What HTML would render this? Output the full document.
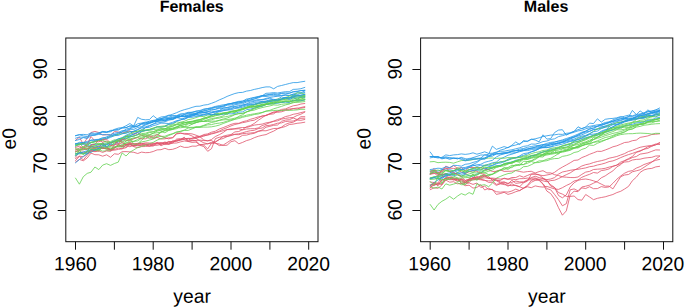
<!DOCTYPE html>
<html><head><meta charset="utf-8"><title>e0</title>
<style>
html,body{margin:0;padding:0;background:#fff;}
body{width:685px;height:308px;overflow:hidden;font-family:"Liberation Sans",sans-serif;}
svg{display:block;}
text{font-family:"Liberation Sans",sans-serif;fill:#000;text-rendering:geometricPrecision;}
.ax{font-size:19.3px;}
.ti{font-size:16px;font-weight:bold;}
.ln path{fill:none;stroke-width:0.8;stroke-linejoin:round;stroke-linecap:round;}
.fr{fill:none;stroke:#111;stroke-width:1;}
</style></head><body>
<svg width="685" height="308" viewBox="0 0 685 308">
<rect width="685" height="308" fill="#fff"/>
<g>
<rect class="fr" x="65.8" y="38.0" width="252.2" height="203.7"/>
<line class="fr" x1="75.5" y1="241.7" x2="75.5" y2="249.7"/>
<text class="ax" x="75.40" y="270.4" transform="rotate(0.05 75.40 270.4)" text-anchor="middle">1960</text>
<line class="fr" x1="114.4" y1="241.7" x2="114.4" y2="249.7"/>
<line class="fr" x1="153.2" y1="241.7" x2="153.2" y2="249.7"/>
<text class="ax" x="153.14" y="270.4" transform="rotate(0.05 153.14 270.4)" text-anchor="middle">1980</text>
<line class="fr" x1="192.1" y1="241.7" x2="192.1" y2="249.7"/>
<line class="fr" x1="231.0" y1="241.7" x2="231.0" y2="249.7"/>
<text class="ax" x="230.88" y="270.4" transform="rotate(0.05 230.88 270.4)" text-anchor="middle">2000</text>
<line class="fr" x1="269.9" y1="241.7" x2="269.9" y2="249.7"/>
<line class="fr" x1="308.7" y1="241.7" x2="308.7" y2="249.7"/>
<text class="ax" x="308.62" y="270.4" transform="rotate(0.05 308.62 270.4)" text-anchor="middle">2020</text>
<line class="fr" x1="57.7" y1="210.5" x2="65.8" y2="210.5"/>
<text class="ax" transform="translate(46.8,209.9) rotate(-89.95)" text-anchor="middle">60</text>
<line class="fr" x1="57.7" y1="163.5" x2="65.8" y2="163.5"/>
<text class="ax" transform="translate(46.8,162.9) rotate(-89.95)" text-anchor="middle">70</text>
<line class="fr" x1="57.7" y1="116.5" x2="65.8" y2="116.5"/>
<text class="ax" transform="translate(46.8,115.9) rotate(-89.95)" text-anchor="middle">80</text>
<line class="fr" x1="57.7" y1="69.5" x2="65.8" y2="69.5"/>
<text class="ax" transform="translate(46.8,68.9) rotate(-89.95)" text-anchor="middle">90</text>
<text class="ax" transform="translate(15.7,138.7) rotate(-89.95)" text-anchor="middle">e0</text>
<text class="ax" x="192.10" y="302.8" transform="rotate(0.05 192.10 302.8)" text-anchor="middle">year</text>
<text class="ti" x="191.70" y="11.7" transform="rotate(0.05 191.70 11.7)" text-anchor="middle">Females</text>
</g>
<g>
<rect class="fr" x="420.6" y="38.0" width="252.2" height="203.7"/>
<line class="fr" x1="430.2" y1="241.7" x2="430.2" y2="249.7"/>
<text class="ax" x="429.65" y="270.4" transform="rotate(0.05 429.65 270.4)" text-anchor="middle">1960</text>
<line class="fr" x1="469.1" y1="241.7" x2="469.1" y2="249.7"/>
<line class="fr" x1="508.0" y1="241.7" x2="508.0" y2="249.7"/>
<text class="ax" x="507.39" y="270.4" transform="rotate(0.05 507.39 270.4)" text-anchor="middle">1980</text>
<line class="fr" x1="546.9" y1="241.7" x2="546.9" y2="249.7"/>
<line class="fr" x1="585.7" y1="241.7" x2="585.7" y2="249.7"/>
<text class="ax" x="585.13" y="270.4" transform="rotate(0.05 585.13 270.4)" text-anchor="middle">2000</text>
<line class="fr" x1="624.6" y1="241.7" x2="624.6" y2="249.7"/>
<line class="fr" x1="663.5" y1="241.7" x2="663.5" y2="249.7"/>
<text class="ax" x="662.87" y="270.4" transform="rotate(0.05 662.87 270.4)" text-anchor="middle">2020</text>
<line class="fr" x1="412.4" y1="210.5" x2="420.6" y2="210.5"/>
<text class="ax" transform="translate(401.6,209.9) rotate(-89.95)" text-anchor="middle">60</text>
<line class="fr" x1="412.4" y1="163.5" x2="420.6" y2="163.5"/>
<text class="ax" transform="translate(401.6,162.9) rotate(-89.95)" text-anchor="middle">70</text>
<line class="fr" x1="412.4" y1="116.5" x2="420.6" y2="116.5"/>
<text class="ax" transform="translate(401.6,115.9) rotate(-89.95)" text-anchor="middle">80</text>
<line class="fr" x1="412.4" y1="69.5" x2="420.6" y2="69.5"/>
<text class="ax" transform="translate(401.6,68.9) rotate(-89.95)" text-anchor="middle">90</text>
<text class="ax" transform="translate(370.4,138.7) rotate(-89.95)" text-anchor="middle">e0</text>
<text class="ax" x="546.85" y="302.8" transform="rotate(0.05 546.85 302.8)" text-anchor="middle">year</text>
<text class="ti" x="546.05" y="11.7" transform="rotate(0.05 546.05 11.7)" text-anchor="middle">Males</text>
</g>
<g class="ln">
<path d="M75.5,144.0L79.4,144.2L83.3,144.4L87.2,146.2L91.0,144.6L94.9,144.4L98.8,144.2L102.7,144.7L106.6,144.1L110.5,144.4L114.4,144.3L118.3,142.1L122.1,140.2L126.0,137.0L129.9,136.0L133.8,134.0L137.7,132.3L141.6,131.0L145.5,127.6L149.4,127.3L153.2,125.7L157.1,124.7L161.0,123.1L164.9,123.3L168.8,123.5L172.7,122.3L176.6,120.7L180.4,119.9L184.3,118.9L188.2,117.3L192.1,115.9L196.0,114.3L199.9,115.1L203.8,114.1L207.7,113.5L211.5,112.7L215.4,111.7L219.3,110.5L223.2,108.1L227.1,107.4L231.0,106.5L234.9,104.7L238.8,104.1L242.6,103.7L246.5,102.1L250.4,101.1L254.3,100.6L258.2,99.5L262.1,99.9L266.0,98.4L269.9,97.5L273.7,96.8L277.6,96.2L281.5,95.8L285.4,95.2L289.3,95.6L293.2,94.3L297.1,94.8L300.9,93.3L304.8,92.4" stroke="#2297E6"/>
<path d="M75.5,154.1L79.4,152.5L83.3,154.1L87.2,152.1L91.0,149.5L94.9,150.2L98.8,148.9L102.7,148.3L106.6,148.9L110.5,149.1L114.4,147.5L118.3,145.4L122.1,146.4L126.0,143.3L129.9,142.3L133.8,141.4L137.7,140.9L141.6,138.3L145.5,136.5L149.4,136.7L153.2,135.4L157.1,134.7L161.0,132.4L164.9,130.3L168.8,129.7L172.7,129.0L176.6,127.6L180.4,125.3L184.3,124.7L188.2,122.7L192.1,121.7L196.0,120.8L199.9,119.4L203.8,118.7L207.7,116.9L211.5,116.5L215.4,115.3L219.3,114.6L223.2,112.8L227.1,112.7L231.0,111.2L234.9,110.5L238.8,109.7L242.6,108.7L246.5,107.5L250.4,106.2L254.3,105.3L258.2,103.9L262.1,102.8L266.0,102.2L269.9,101.5L273.7,100.9L277.6,101.2L281.5,100.0L285.4,99.6L289.3,99.9L293.2,97.6L297.1,97.9L300.9,97.6L304.8,96.8" stroke="#61D04F"/>
<path d="M75.5,140.3L79.4,137.2L83.3,144.2L87.2,138.1L91.0,132.5L94.9,131.4L98.8,132.5L102.7,135.0L106.6,134.6L110.5,135.3L114.4,131.5L118.3,132.0L122.1,133.1L126.0,132.0L129.9,130.7L133.8,134.5L137.7,132.7L141.6,135.5L145.5,136.2L149.4,135.5L153.2,137.0L157.1,134.6L161.0,136.1L164.9,137.8L168.8,138.9L172.7,137.4L176.6,133.4L180.4,132.9L184.3,134.2L188.2,134.4L192.1,136.0L196.0,138.4L199.9,140.8L203.8,142.8L207.7,143.8L211.5,143.1L215.4,143.3L219.3,144.0L223.2,145.5L227.1,145.2L231.0,141.7L234.9,140.7L238.8,143.8L242.6,142.4L246.5,140.6L250.4,139.5L254.3,137.7L258.2,136.3L262.1,135.3L266.0,134.6L269.9,132.7L273.7,131.1L277.6,128.8L281.5,127.1L285.4,124.4L289.3,122.9L293.2,122.2L297.1,120.1L300.9,120.3L304.8,119.5" stroke="#DF536B"/>
<path d="M75.5,149.9L79.4,149.2L83.3,148.9L87.2,149.3L91.0,146.0L94.9,146.2L98.8,144.4L102.7,143.3L106.6,146.3L110.5,145.4L114.4,143.4L118.3,140.9L122.1,141.0L126.0,141.0L129.9,139.5L133.8,138.6L137.7,136.9L141.6,134.5L145.5,134.3L149.4,132.6L153.2,131.9L157.1,130.1L161.0,128.6L164.9,128.8L168.8,127.0L172.7,126.1L176.6,124.3L180.4,122.2L184.3,121.3L188.2,119.6L192.1,118.9L196.0,117.6L199.9,116.3L203.8,116.6L207.7,114.8L211.5,114.9L215.4,114.1L219.3,113.2L223.2,113.2L227.1,112.3L231.0,111.6L234.9,111.0L238.8,111.0L242.6,109.6L246.5,108.1L250.4,107.6L254.3,106.6L258.2,105.5L262.1,105.0L266.0,103.6L269.9,102.6L273.7,102.1L277.6,102.6L281.5,102.2L285.4,101.9L289.3,102.1L293.2,100.2L297.1,100.0L300.9,99.1L304.8,97.6" stroke="#61D04F"/>
<path d="M75.5,158.5L79.4,156.1L83.3,156.8L87.2,153.8L91.0,150.5L94.9,151.2L98.8,150.4L102.7,147.1L106.6,149.0L110.5,149.6L114.4,147.1L118.3,146.1L122.1,146.6L126.0,147.1L129.9,144.0L133.8,146.7L137.7,147.7L141.6,146.6L145.5,146.5L149.4,146.0L153.2,146.1L157.1,143.2L161.0,142.8L164.9,144.6L168.8,144.2L172.7,143.1L176.6,143.0L180.4,141.9L184.3,141.0L188.2,141.4L192.1,140.8L196.0,140.5L199.9,140.1L203.8,140.6L207.7,140.7L211.5,140.5L215.4,143.1L219.3,145.6L223.2,145.0L227.1,142.6L231.0,140.0L234.9,138.6L238.8,137.6L242.6,135.3L246.5,135.1L250.4,134.0L254.3,133.3L258.2,131.5L262.1,130.7L266.0,130.8L269.9,129.6L273.7,128.5L277.6,128.4L281.5,127.6L285.4,126.5L289.3,124.5L293.2,124.1L297.1,123.3L300.9,122.9L304.8,122.2" stroke="#DF536B"/>
<path d="M75.5,143.5L79.4,143.3L83.3,142.4L87.2,141.5L91.0,140.2L94.9,139.6L98.8,139.3L102.7,138.6L106.6,136.8L110.5,135.5L114.4,134.5L118.3,134.4L122.1,131.9L126.0,131.7L129.9,129.3L133.8,129.4L137.7,127.5L141.6,126.6L145.5,124.2L149.4,123.0L153.2,121.6L157.1,121.3L161.0,119.6L164.9,119.0L168.8,118.3L172.7,117.4L176.6,116.3L180.4,115.2L184.3,114.5L188.2,113.5L192.1,113.3L196.0,113.1L199.9,112.2L203.8,112.6L207.7,111.5L211.5,111.9L215.4,111.2L219.3,110.6L223.2,109.7L227.1,108.9L231.0,108.1L234.9,107.8L238.8,107.3L242.6,106.0L246.5,104.9L250.4,104.5L254.3,103.9L258.2,102.9L262.1,101.3L266.0,101.5L269.9,100.4L273.7,100.4L277.6,100.0L281.5,99.2L285.4,98.5L289.3,98.1L293.2,97.2L297.1,97.0L300.9,96.4L304.8,96.2" stroke="#2297E6"/>
<path d="M75.5,147.5L79.4,146.1L83.3,148.2L87.2,146.2L91.0,146.7L94.9,147.4L98.8,145.8L102.7,148.6L106.6,147.8L110.5,149.2L114.4,149.5L118.3,148.1L122.1,148.8L126.0,145.1L129.9,146.8L133.8,145.2L137.7,145.8L141.6,145.2L145.5,145.0L149.4,145.9L153.2,145.3L157.1,145.3L161.0,144.4L164.9,143.0L168.8,143.9L172.7,141.0L176.6,141.2L180.4,139.6L184.3,137.8L188.2,140.2L192.1,138.2L196.0,137.4L199.9,136.6L203.8,134.5L207.7,133.9L211.5,132.2L215.4,131.2L219.3,129.0L223.2,127.6L227.1,126.0L231.0,124.4L234.9,123.3L238.8,123.3L242.6,122.7L246.5,121.9L250.4,120.8L254.3,120.2L258.2,118.1L262.1,115.9L266.0,115.5L269.9,113.7L273.7,112.0L277.6,112.3L281.5,111.8L285.4,110.5L289.3,109.9L293.2,108.7L297.1,109.1L300.9,107.5L304.8,106.6" stroke="#DF536B"/>
<path d="M75.5,144.2L79.4,144.4L83.3,143.3L87.2,143.1L91.0,142.1L94.9,141.4L98.8,140.0L102.7,139.1L106.6,138.3L110.5,136.3L114.4,135.8L118.3,134.2L122.1,133.8L126.0,132.7L129.9,131.8L133.8,131.6L137.7,131.3L141.6,130.7L145.5,130.5L149.4,130.4L153.2,129.6L157.1,129.0L161.0,128.9L164.9,128.9L168.8,128.6L172.7,128.1L176.6,127.7L180.4,127.8L184.3,127.2L188.2,127.5L192.1,127.3L196.0,127.4L199.9,127.4L203.8,127.1L207.7,127.1L211.5,126.8L215.4,126.1L219.3,125.1L223.2,123.5L227.1,122.1L231.0,120.7L234.9,119.4L238.8,118.5L242.6,117.3L246.5,116.4L250.4,115.6L254.3,114.5L258.2,114.0L262.1,112.7L266.0,111.2L269.9,110.3L273.7,108.8L277.6,107.6L281.5,106.4L285.4,105.0L289.3,103.8L293.2,102.8L297.1,101.6L300.9,100.9L304.8,100.0" stroke="#61D04F"/>
<path d="M75.5,157.2L79.4,152.0L83.3,152.3L87.2,152.3L91.0,145.7L94.9,147.9L98.8,148.2L102.7,142.6L106.6,147.1L110.5,150.2L114.4,144.8L118.3,144.0L122.1,142.9L126.0,144.9L129.9,143.3L133.8,144.1L137.7,144.3L141.6,143.2L145.5,144.1L149.4,144.2L153.2,145.0L157.1,142.6L161.0,145.8L164.9,143.9L168.8,141.3L172.7,142.9L176.6,140.0L180.4,139.5L184.3,137.3L188.2,141.0L192.1,140.4L196.0,140.8L199.9,144.7L203.8,145.2L207.7,148.9L211.5,143.2L215.4,142.2L219.3,139.5L223.2,136.2L227.1,135.2L231.0,134.6L234.9,131.9L238.8,131.5L242.6,129.6L246.5,126.6L250.4,125.7L254.3,123.4L258.2,120.4L262.1,117.7L266.0,115.1L269.9,114.3L273.7,113.8L277.6,111.1L281.5,109.4L285.4,108.9L289.3,107.3L293.2,105.8L297.1,105.2L300.9,104.0L304.8,103.5" stroke="#DF536B"/>
<path d="M75.5,153.6L79.4,153.9L83.3,153.8L87.2,153.9L91.0,149.4L94.9,149.4L98.8,151.3L102.7,145.3L106.6,146.7L110.5,146.5L114.4,142.9L118.3,141.0L122.1,139.6L126.0,138.0L129.9,137.0L133.8,136.1L137.7,134.5L141.6,131.9L145.5,130.7L149.4,129.4L153.2,128.0L157.1,126.8L161.0,126.3L164.9,125.8L168.8,124.3L172.7,124.2L176.6,121.9L180.4,122.6L184.3,122.4L188.2,122.3L192.1,121.9L196.0,120.2L199.9,120.1L203.8,117.8L207.7,117.2L211.5,115.4L215.4,114.2L219.3,113.8L223.2,113.3L227.1,112.9L231.0,111.8L234.9,111.7L238.8,110.4L242.6,108.7L246.5,106.9L250.4,105.6L254.3,104.6L258.2,103.3L262.1,102.4L266.0,101.8L269.9,101.3L273.7,100.7L277.6,100.1L281.5,99.0L285.4,97.4L289.3,98.1L293.2,96.3L297.1,95.5L300.9,95.8L304.8,95.4" stroke="#61D04F"/>
<path d="M75.5,146.4L79.4,144.0L83.3,143.6L87.2,144.3L91.0,142.6L94.9,141.5L98.8,139.9L102.7,139.3L106.6,138.9L110.5,137.4L114.4,135.6L118.3,135.5L122.1,133.7L126.0,133.3L129.9,131.6L133.8,131.5L137.7,129.8L141.6,127.9L145.5,126.8L149.4,125.5L153.2,124.1L157.1,123.0L161.0,122.3L164.9,121.9L168.8,120.2L172.7,119.4L176.6,117.8L180.4,116.7L184.3,114.6L188.2,112.9L192.1,112.3L196.0,111.3L199.9,111.2L203.8,109.0L207.7,108.5L211.5,107.6L215.4,106.4L219.3,105.6L223.2,104.8L227.1,104.3L231.0,103.4L234.9,102.4L238.8,101.3L242.6,101.3L246.5,99.0L250.4,98.8L254.3,97.7L258.2,96.9L262.1,95.7L266.0,95.0L269.9,94.3L273.7,93.6L277.6,94.1L281.5,93.2L285.4,92.9L289.3,93.2L293.2,91.7L297.1,91.2L300.9,90.7L304.8,90.3" stroke="#2297E6"/>
<path d="M75.5,162.1L79.4,159.4L83.3,160.8L87.2,158.0L91.0,153.1L94.9,154.7L98.8,154.8L102.7,156.2L106.6,154.8L110.5,157.3L114.4,153.8L118.3,154.3L122.1,151.7L126.0,151.6L129.9,151.9L133.8,152.3L137.7,153.5L141.6,152.1L145.5,152.7L149.4,152.5L153.2,151.5L157.1,149.9L161.0,149.7L164.9,148.3L168.8,149.7L172.7,149.3L176.6,148.0L180.4,146.1L184.3,147.4L188.2,147.3L192.1,146.1L196.0,146.2L199.9,144.7L203.8,144.3L207.7,143.8L211.5,142.3L215.4,141.7L219.3,139.5L223.2,138.5L227.1,136.5L231.0,135.6L234.9,134.2L238.8,133.8L242.6,132.7L246.5,131.6L250.4,130.7L254.3,130.3L258.2,128.6L262.1,128.0L266.0,125.7L269.9,125.3L273.7,124.4L277.6,123.2L281.5,122.9L285.4,121.5L289.3,121.2L293.2,121.0L297.1,119.6L300.9,118.3L304.8,118.2" stroke="#DF536B"/>
<path d="M75.5,135.6L79.4,134.6L83.3,134.4L87.2,134.8L91.0,132.9L94.9,133.3L98.8,132.9L102.7,131.4L106.6,132.5L110.5,130.4L114.4,130.1L118.3,130.1L122.1,127.8L126.0,127.7L129.9,125.9L133.8,125.6L137.7,117.4L141.6,119.3L145.5,119.8L149.4,119.6L153.2,115.7L157.1,118.8L161.0,117.0L164.9,116.5L168.8,115.2L172.7,115.8L176.6,115.9L180.4,114.8L184.3,116.5L188.2,116.5L192.1,114.5L196.0,114.3L199.9,112.0L203.8,112.3L207.7,112.7L211.5,115.4L215.4,113.2L219.3,111.4L223.2,110.7L227.1,109.8L231.0,109.0L234.9,106.6L238.8,107.1L242.6,105.1L246.5,103.8L250.4,102.2L254.3,101.3L258.2,100.6L262.1,99.4L266.0,99.3L269.9,98.1L273.7,99.7L277.6,99.2L281.5,96.9L285.4,98.3L289.3,99.4L293.2,97.7L297.1,99.5L300.9,97.0L304.8,97.2" stroke="#2297E6"/>
<path d="M75.5,155.7L79.4,152.6L83.3,154.1L87.2,151.2L91.0,151.9L94.9,150.4L98.8,150.0L102.7,147.9L106.6,149.1L110.5,148.9L114.4,147.8L118.3,146.6L122.1,147.2L126.0,145.2L129.9,144.0L133.8,145.2L137.7,143.9L141.6,141.9L145.5,141.2L149.4,140.1L153.2,139.0L157.1,136.9L161.0,136.4L164.9,136.3L168.8,134.7L172.7,133.7L176.6,131.8L180.4,131.6L184.3,130.0L188.2,128.0L192.1,127.9L196.0,126.7L199.9,127.1L203.8,125.8L207.7,124.9L211.5,124.6L215.4,123.6L219.3,123.1L223.2,122.4L227.1,121.1L231.0,119.9L234.9,119.0L238.8,116.3L242.6,114.8L246.5,111.9L250.4,110.4L254.3,108.8L258.2,107.1L262.1,106.4L266.0,104.5L269.9,104.2L273.7,104.2L277.6,102.0L281.5,102.4L285.4,101.5L289.3,101.1L293.2,98.9L297.1,98.2L300.9,97.5L304.8,96.5" stroke="#61D04F"/>
<path d="M75.5,153.9L79.4,153.0L83.3,153.0L87.2,153.1L91.0,149.6L94.9,150.1L98.8,148.7L102.7,145.2L106.6,146.9L110.5,144.0L114.4,141.5L118.3,140.3L122.1,138.9L126.0,138.8L129.9,137.0L133.8,135.8L137.7,134.6L141.6,131.4L145.5,130.4L149.4,129.8L153.2,128.8L157.1,126.8L161.0,127.2L164.9,126.4L168.8,124.3L172.7,123.4L176.6,121.3L180.4,120.0L184.3,118.1L188.2,116.9L192.1,115.5L196.0,114.3L199.9,113.5L203.8,112.6L207.7,111.7L211.5,110.3L215.4,109.3L219.3,107.5L223.2,106.9L227.1,105.2L231.0,104.9L234.9,103.7L238.8,103.2L242.6,102.4L246.5,100.6L250.4,100.1L254.3,99.1L258.2,97.9L262.1,96.4L266.0,96.5L269.9,95.9L273.7,95.7L277.6,95.9L281.5,95.5L285.4,95.0L289.3,95.4L293.2,94.1L297.1,92.9L300.9,92.7L304.8,91.0" stroke="#2297E6"/>
<path d="M75.5,162.8L79.4,159.6L83.3,156.4L87.2,153.8L91.0,152.3L94.9,149.8L98.8,148.2L102.7,147.2L106.6,144.7L110.5,142.7L114.4,141.2L118.3,139.1L122.1,137.6L126.0,135.3L129.9,133.5L133.8,131.0L137.7,129.5L141.6,127.2L145.5,125.1L149.4,123.5L153.2,122.1L157.1,119.9L161.0,118.7L164.9,117.3L168.8,115.5L172.7,114.2L176.6,112.7L180.4,111.0L184.3,109.7L188.2,108.7L192.1,107.4L196.0,106.3L199.9,106.2L203.8,105.1L207.7,104.6L211.5,103.3L215.4,101.8L219.3,99.9L223.2,98.3L227.1,96.4L231.0,94.9L234.9,93.5L238.8,92.6L242.6,92.4L246.5,91.1L250.4,90.5L254.3,89.4L258.2,88.6L262.1,87.6L266.0,86.9L269.9,86.9L273.7,88.8L277.6,86.4L281.5,85.5L285.4,84.5L289.3,83.5L293.2,82.6L297.1,82.6L300.9,81.9L304.8,81.3" stroke="#2297E6"/>
<path d="M75.5,151.8L79.4,150.8L83.3,148.0L87.2,149.5L91.0,144.9L94.9,144.3L98.8,140.2L102.7,142.1L106.6,140.9L110.5,145.6L114.4,145.2L118.3,140.5L122.1,141.8L126.0,144.5L129.9,144.2L133.8,145.6L137.7,144.8L141.6,145.3L145.5,145.0L149.4,146.3L153.2,144.3L157.1,142.7L161.0,144.3L164.9,142.7L168.8,144.2L172.7,142.7L176.6,139.1L180.4,138.6L184.3,139.5L188.2,141.5L192.1,142.4L196.0,142.1L199.9,145.2L203.8,146.6L207.7,151.3L211.5,148.7L215.4,138.6L219.3,137.3L223.2,136.7L227.1,136.6L231.0,135.0L234.9,134.5L238.8,134.7L242.6,133.6L246.5,133.3L250.4,133.0L254.3,132.6L258.2,131.1L262.1,130.1L266.0,127.2L269.9,126.3L273.7,125.3L277.6,125.0L281.5,121.3L285.4,120.1L289.3,119.7L293.2,118.0L297.1,119.5L300.9,116.7L304.8,116.7" stroke="#DF536B"/>
<path d="M75.5,150.0L79.4,147.9L83.3,146.6L87.2,144.5L91.0,136.5L94.9,140.9L98.8,141.9L102.7,139.7L106.6,139.1L110.5,143.1L114.4,141.1L118.3,143.9L122.1,139.0L126.0,140.1L129.9,140.4L133.8,138.7L137.7,137.6L141.6,138.8L145.5,138.8L149.4,137.0L153.2,138.4L157.1,137.4L161.0,139.0L164.9,138.8L168.8,137.8L172.7,138.0L176.6,133.9L180.4,133.4L184.3,133.4L188.2,133.5L192.1,133.9L196.0,135.2L199.9,136.7L203.8,140.0L207.7,140.9L211.5,139.5L215.4,136.5L219.3,134.7L223.2,132.5L227.1,129.6L231.0,128.8L234.9,129.0L238.8,128.7L242.6,129.8L246.5,129.0L250.4,128.7L254.3,128.7L258.2,128.0L262.1,125.6L266.0,124.3L269.9,122.6L273.7,121.4L277.6,120.8L281.5,119.1L285.4,118.4L289.3,117.8L293.2,117.5L297.1,115.5L300.9,114.2L304.8,112.1" stroke="#DF536B"/>
<path d="M75.5,155.0L79.4,150.5L83.3,153.9L87.2,151.1L91.0,149.1L94.9,149.0L98.8,149.5L102.7,151.2L106.6,150.7L110.5,150.6L114.4,148.1L118.3,144.2L122.1,146.3L126.0,140.9L129.9,138.9L133.8,143.9L137.7,143.8L141.6,140.2L145.5,136.8L149.4,138.5L153.2,137.5L157.1,136.6L161.0,131.4L164.9,132.8L168.8,130.4L172.7,129.3L176.6,126.7L180.4,125.2L184.3,127.1L188.2,123.3L192.1,124.0L196.0,122.6L199.9,121.2L203.8,119.4L207.7,118.1L211.5,115.2L215.4,114.2L219.3,114.5L223.2,113.4L227.1,114.8L231.0,111.4L234.9,112.6L238.8,109.7L242.6,108.3L246.5,107.7L250.4,106.2L254.3,106.5L258.2,106.6L262.1,104.0L266.0,104.0L269.9,100.7L273.7,100.4L277.6,99.1L281.5,98.7L285.4,97.5L289.3,96.2L293.2,95.5L297.1,92.9L300.9,92.9L304.8,94.1" stroke="#61D04F"/>
<path d="M75.5,138.2L79.4,137.0L83.3,137.3L87.2,137.2L91.0,134.9L94.9,135.2L98.8,134.4L102.7,134.6L106.6,134.8L110.5,134.5L114.4,133.2L118.3,132.5L122.1,130.7L126.0,130.5L129.9,128.7L133.8,127.5L137.7,126.2L141.6,123.6L145.5,123.0L149.4,121.1L153.2,120.6L157.1,119.6L161.0,119.1L164.9,119.1L168.8,118.1L172.7,118.2L176.6,116.9L180.4,116.5L184.3,116.8L188.2,115.9L192.1,116.1L196.0,115.1L199.9,115.3L203.8,115.1L207.7,114.8L211.5,114.6L215.4,114.3L219.3,114.8L223.2,114.3L227.1,113.6L231.0,113.9L234.9,113.4L238.8,112.1L242.6,111.9L246.5,109.7L250.4,109.1L254.3,108.0L258.2,106.7L262.1,106.1L266.0,104.5L269.9,103.9L273.7,103.3L277.6,103.3L281.5,102.4L285.4,102.0L289.3,102.5L293.2,100.3L297.1,100.6L300.9,100.7L304.8,99.7" stroke="#2297E6"/>
<path d="M75.5,145.5L79.4,143.4L83.3,147.2L87.2,145.2L91.0,142.5L94.9,143.2L98.8,143.6L102.7,143.3L106.6,142.8L110.5,142.8L114.4,142.2L118.3,141.1L122.1,142.6L126.0,138.6L129.9,139.0L133.8,137.8L137.7,137.3L141.6,135.7L145.5,134.8L149.4,135.1L153.2,133.3L157.1,132.7L161.0,132.2L164.9,130.9L168.8,130.2L172.7,129.5L176.6,128.7L180.4,126.6L184.3,126.5L188.2,126.2L192.1,124.2L196.0,122.7L199.9,121.4L203.8,121.3L207.7,119.6L211.5,118.6L215.4,117.9L219.3,117.1L223.2,115.9L227.1,113.2L231.0,112.1L234.9,112.0L238.8,110.0L242.6,109.7L246.5,108.0L250.4,107.0L254.3,106.8L258.2,105.7L262.1,104.8L266.0,104.6L269.9,103.6L273.7,103.3L277.6,101.7L281.5,101.8L285.4,100.7L289.3,101.2L293.2,101.2L297.1,99.4L300.9,99.2L304.8,98.9" stroke="#61D04F"/>
<path d="M75.5,135.8L79.4,134.8L83.3,135.9L87.2,136.5L91.0,133.8L94.9,134.4L98.8,133.6L102.7,132.2L106.6,132.3L110.5,131.8L114.4,129.4L118.3,128.1L122.1,127.6L126.0,125.8L129.9,123.5L133.8,126.2L137.7,123.8L141.6,123.0L145.5,122.1L149.4,121.9L153.2,120.3L157.1,120.5L161.0,119.6L164.9,121.0L168.8,119.5L172.7,119.6L176.6,117.6L180.4,118.4L184.3,119.4L188.2,117.4L192.1,117.3L196.0,116.5L199.9,115.9L203.8,114.7L207.7,113.7L211.5,112.9L215.4,112.0L219.3,111.6L223.2,110.6L227.1,110.1L231.0,109.8L234.9,108.5L238.8,108.1L242.6,107.2L246.5,105.8L250.4,104.8L254.3,104.6L258.2,103.4L262.1,102.8L266.0,102.3L269.9,101.4L273.7,100.9L277.6,100.7L281.5,99.0L285.4,97.6L289.3,98.0L293.2,95.3L297.1,95.8L300.9,95.3L304.8,94.5" stroke="#2297E6"/>
<path d="M75.5,160.5L79.4,156.4L83.3,159.9L87.2,155.4L91.0,150.7L94.9,151.7L98.8,151.0L102.7,152.4L106.6,150.8L110.5,151.4L114.4,148.5L118.3,144.7L122.1,146.1L126.0,144.5L129.9,142.7L133.8,144.0L137.7,143.3L141.6,143.6L145.5,142.8L149.4,143.0L153.2,143.3L157.1,143.0L161.0,142.9L164.9,143.0L168.8,141.9L172.7,141.4L176.6,141.1L180.4,140.2L184.3,139.3L188.2,138.4L192.1,139.1L196.0,138.3L199.9,137.1L203.8,136.2L207.7,134.7L211.5,133.4L215.4,132.6L219.3,131.0L223.2,129.1L227.1,127.7L231.0,125.9L234.9,124.5L238.8,123.6L242.6,121.7L246.5,120.8L250.4,119.3L254.3,118.2L258.2,116.9L262.1,116.2L266.0,115.6L269.9,113.6L273.7,112.3L277.6,111.3L281.5,110.6L285.4,109.7L289.3,109.0L293.2,108.6L297.1,108.0L300.9,108.1L304.8,107.5" stroke="#DF536B"/>
<path d="M75.5,178.1L79.4,184.2L83.3,176.7L87.2,173.4L91.0,172.2L94.9,167.0L98.8,169.6L102.7,165.1L106.6,163.7L110.5,165.4L114.4,163.5L118.3,162.1L122.1,152.9L126.0,156.0L129.9,152.2L133.8,149.9L137.7,147.5L141.6,146.3L145.5,145.1L149.4,143.7L153.2,142.4L157.1,140.1L161.0,138.6L164.9,137.5L168.8,135.5L172.7,133.9L176.6,132.5L180.4,131.2L184.3,130.5L188.2,130.4L192.1,128.9L196.0,127.3L199.9,126.6L203.8,125.3L207.7,123.7L211.5,122.5L215.4,121.7L219.3,120.2L223.2,119.0L227.1,118.1L231.0,116.5L234.9,114.7L238.8,113.7L242.6,113.6L246.5,112.0L250.4,110.3L254.3,108.1L258.2,107.4L262.1,105.7L266.0,104.7L269.9,103.3L273.7,102.1L277.6,100.5L281.5,100.1L285.4,99.2L289.3,97.7L293.2,96.9L297.1,95.9L300.9,96.2L304.8,95.6" stroke="#61D04F"/>
<path d="M75.5,151.4L79.4,149.8L83.3,149.9L87.2,148.5L91.0,148.1L94.9,148.6L98.8,146.8L102.7,148.1L106.6,147.8L110.5,150.2L114.4,150.2L118.3,149.4L122.1,148.8L126.0,147.7L129.9,144.9L133.8,146.3L137.7,145.2L141.6,144.6L145.5,144.0L149.4,144.4L153.2,143.7L157.1,144.0L161.0,143.3L164.9,142.0L168.8,142.9L172.7,141.2L176.6,140.6L180.4,139.9L184.3,138.6L188.2,138.4L192.1,138.3L196.0,136.8L199.9,136.3L203.8,135.4L207.7,135.2L211.5,134.0L215.4,133.0L219.3,131.8L223.2,130.7L227.1,129.6L231.0,129.6L234.9,128.6L238.8,127.9L242.6,127.5L246.5,127.5L250.4,126.3L254.3,125.1L258.2,124.6L262.1,124.1L266.0,122.9L269.9,122.2L273.7,121.1L277.6,119.5L281.5,118.4L285.4,116.6L289.3,115.7L293.2,114.3L297.1,113.6L300.9,112.6L304.8,111.7" stroke="#DF536B"/>
<path d="M75.5,155.7L79.4,153.2L83.3,151.8L87.2,150.8L91.0,146.9L94.9,147.1L98.8,146.3L102.7,144.1L106.6,144.1L110.5,142.5L114.4,140.8L118.3,138.7L122.1,138.2L126.0,136.2L129.9,135.6L133.8,133.8L137.7,132.4L141.6,129.5L145.5,127.6L149.4,126.1L153.2,124.1L157.1,121.5L161.0,121.0L164.9,120.8L168.8,118.9L172.7,118.9L176.6,117.0L180.4,116.5L184.3,115.8L188.2,114.8L192.1,114.2L196.0,113.4L199.9,112.0L203.8,110.6L207.7,109.9L211.5,108.4L215.4,107.5L219.3,106.8L223.2,106.1L227.1,104.5L231.0,103.7L234.9,102.7L238.8,102.7L242.6,102.3L246.5,101.3L250.4,100.0L254.3,98.8L258.2,97.2L262.1,95.8L266.0,93.3L269.9,93.1L273.7,92.6L277.6,93.0L281.5,92.3L285.4,91.7L289.3,91.7L293.2,89.4L297.1,89.2L300.9,88.7L304.8,87.4" stroke="#2297E6"/>
<path d="M75.5,140.5L79.4,139.5L83.3,137.6L87.2,138.6L91.0,135.7L94.9,135.1L98.8,133.1L102.7,131.7L106.6,131.7L110.5,131.1L114.4,130.0L118.3,129.3L122.1,128.1L126.0,127.6L129.9,126.0L133.8,126.7L137.7,126.2L141.6,124.4L145.5,124.0L149.4,123.0L153.2,121.8L157.1,121.3L161.0,120.3L164.9,120.2L168.8,118.5L172.7,118.1L176.6,117.4L180.4,116.5L184.3,116.4L188.2,115.3L192.1,114.7L196.0,113.4L199.9,112.0L203.8,111.2L207.7,110.1L211.5,109.4L215.4,109.2L219.3,108.5L223.2,108.2L227.1,107.7L231.0,106.9L234.9,106.3L238.8,105.6L242.6,105.1L246.5,104.3L250.4,103.5L254.3,102.5L258.2,101.9L262.1,101.6L266.0,101.0L269.9,99.8L273.7,99.3L277.6,100.0L281.5,99.2L285.4,97.6L289.3,98.0L293.2,96.6L297.1,95.9L300.9,95.2L304.8,94.2" stroke="#2297E6"/>
<path d="M75.5,144.4L79.4,142.3L83.3,142.6L87.2,142.8L91.0,140.3L94.9,140.3L98.8,139.4L102.7,137.6L106.6,137.9L110.5,136.4L114.4,134.6L118.3,133.4L122.1,131.9L126.0,129.1L129.9,128.0L133.8,126.3L137.7,125.9L141.6,123.6L145.5,122.9L149.4,122.6L153.2,121.6L157.1,119.5L161.0,118.6L164.9,117.7L168.8,117.2L172.7,115.9L176.6,115.7L180.4,113.9L184.3,113.5L188.2,112.3L192.1,112.3L196.0,111.1L199.9,110.4L203.8,109.6L207.7,108.6L211.5,108.2L215.4,107.0L219.3,106.7L223.2,105.9L227.1,104.1L231.0,103.7L234.9,102.8L238.8,101.9L242.6,101.0L246.5,100.0L250.4,98.2L254.3,97.4L258.2,96.5L262.1,95.6L266.0,95.4L269.9,94.7L273.7,94.4L277.6,95.0L281.5,93.6L285.4,94.0L289.3,93.2L293.2,91.9L297.1,91.7L300.9,90.5L304.8,90.3" stroke="#2297E6"/>
<path d="M75.5,145.9L79.4,144.8L83.3,143.2L87.2,145.3L91.0,142.5L94.9,141.7L98.8,140.5L102.7,140.4L106.6,141.9L110.5,141.6L114.4,139.8L118.3,140.5L122.1,138.0L126.0,136.5L129.9,136.4L133.8,136.1L137.7,134.8L141.6,133.6L145.5,133.2L149.4,131.9L153.2,131.7L157.1,130.3L161.0,129.9L164.9,129.9L168.8,129.0L172.7,128.2L176.6,126.7L180.4,125.5L184.3,124.7L188.2,123.9L192.1,123.0L196.0,122.5L199.9,121.8L203.8,121.2L207.7,120.5L211.5,119.8L215.4,118.5L219.3,118.1L223.2,117.1L227.1,116.5L231.0,115.5L234.9,114.4L238.8,113.5L242.6,113.3L246.5,111.9L250.4,110.8L254.3,110.1L258.2,108.6L262.1,107.6L266.0,106.7L269.9,105.9L273.7,104.9L277.6,105.2L281.5,104.3L285.4,103.8L289.3,103.9L293.2,102.0L297.1,102.4L300.9,102.0L304.8,101.6" stroke="#61D04F"/>
<path d="M75.5,148.6L79.4,149.3L83.3,147.4L87.2,147.2L91.0,146.2L94.9,145.5L98.8,144.7L102.7,144.7L106.6,144.2L110.5,142.6L114.4,141.4L118.3,139.6L122.1,138.5L126.0,136.2L129.9,134.3L133.8,132.3L137.7,131.2L141.6,130.0L145.5,129.8L149.4,129.5L153.2,128.3L157.1,127.0L161.0,127.1L164.9,126.6L168.8,126.1L172.7,125.0L176.6,124.1L180.4,124.1L184.3,122.9L188.2,121.8L192.1,121.8L196.0,121.4L199.9,120.9L203.8,121.5L207.7,121.5L211.5,121.2L215.4,121.1L219.3,120.5L223.2,119.9L227.1,119.6L231.0,119.0L234.9,118.1L238.8,117.4L242.6,116.4L246.5,115.2L250.4,114.5L254.3,113.8L258.2,113.1L262.1,112.4L266.0,111.1L269.9,110.9L273.7,110.5L277.6,110.3L281.5,110.6L285.4,110.0L289.3,110.4L293.2,110.2L297.1,109.9L300.9,109.3L304.8,109.3" stroke="#61D04F"/>
<path d="M75.5,152.2L79.4,150.3L83.3,149.6L87.2,149.0L91.0,148.0L94.9,147.7L98.8,147.5L102.7,146.7L106.6,147.7L110.5,147.1L114.4,146.8L118.3,146.3L122.1,144.5L126.0,143.0L129.9,141.0L133.8,141.3L137.7,139.5L141.6,137.2L145.5,136.0L149.4,134.6L153.2,133.2L157.1,131.2L161.0,130.2L164.9,128.7L168.8,127.5L172.7,126.3L176.6,124.8L180.4,124.1L184.3,123.1L188.2,121.9L192.1,121.2L196.0,120.3L199.9,119.6L203.8,118.5L207.7,117.7L211.5,117.0L215.4,115.8L219.3,114.9L223.2,113.7L227.1,112.7L231.0,111.9L234.9,110.6L238.8,110.3L242.6,109.2L246.5,108.1L250.4,107.0L254.3,106.7L258.2,105.2L262.1,104.9L266.0,104.2L269.9,103.2L273.7,102.8L277.6,102.8L281.5,101.9L285.4,101.2L289.3,101.8L293.2,101.0L297.1,100.8L300.9,100.2L304.8,99.6" stroke="#61D04F"/>
<path d="M430.2,173.9L434.1,171.8L438.0,174.0L441.9,174.5L445.8,174.5L449.7,174.4L453.6,175.7L457.5,174.8L461.3,176.2L465.2,174.3L469.1,175.8L473.0,176.3L476.9,174.0L480.8,172.7L484.7,170.0L488.6,166.9L492.4,165.6L496.3,163.9L500.2,161.6L504.1,161.8L508.0,159.2L511.9,157.9L515.8,157.8L519.7,155.9L523.5,153.6L527.4,153.0L531.3,151.7L535.2,150.6L539.1,148.8L543.0,145.1L546.9,145.3L550.7,143.6L554.6,143.9L558.5,142.4L562.4,141.7L566.3,140.2L570.2,137.8L574.1,136.8L578.0,135.1L581.8,132.9L585.7,131.2L589.6,128.7L593.5,128.7L597.4,126.0L601.3,125.1L605.2,123.7L609.1,122.2L612.9,121.3L616.8,119.6L620.7,118.6L624.6,118.0L628.5,116.4L632.4,116.4L636.3,115.4L640.1,115.0L644.0,114.5L647.9,114.0L651.8,112.8L655.7,112.3L659.6,110.4" stroke="#2297E6"/>
<path d="M430.2,185.6L434.1,183.6L438.0,183.9L441.9,183.5L445.8,179.5L449.7,179.4L453.6,178.9L457.5,181.6L461.3,180.9L465.2,182.4L469.1,180.3L473.0,178.7L476.9,179.0L480.8,177.0L484.7,172.8L488.6,174.5L492.4,174.1L496.3,171.2L500.2,170.3L504.1,169.6L508.0,168.1L511.9,167.6L515.8,165.1L519.7,164.9L523.5,164.6L527.4,161.7L531.3,160.9L535.2,158.5L539.1,156.6L543.0,154.4L546.9,152.6L550.7,151.5L554.6,150.6L558.5,150.1L562.4,148.6L566.3,148.1L570.2,147.2L574.1,145.1L578.0,143.0L581.8,141.2L585.7,139.8L589.6,138.1L593.5,136.8L597.4,135.0L601.3,134.1L605.2,132.7L609.1,131.3L612.9,130.0L616.8,129.6L620.7,127.3L624.6,127.3L628.5,127.4L632.4,125.7L636.3,123.9L640.1,124.1L644.0,123.7L647.9,122.1L651.8,121.3L655.7,119.7L659.6,118.5" stroke="#61D04F"/>
<path d="M430.2,174.0L434.1,172.9L438.0,176.2L441.9,169.7L445.8,168.7L449.7,168.2L453.6,168.4L457.5,169.0L461.3,172.1L465.2,173.6L469.1,171.8L473.0,170.8L476.9,171.3L480.8,173.2L484.7,174.7L488.6,176.5L492.4,180.5L496.3,179.7L500.2,182.0L504.1,182.2L508.0,183.9L511.9,180.2L515.8,183.3L519.7,182.9L523.5,182.3L527.4,180.4L531.3,177.6L535.2,176.2L539.1,177.6L543.0,178.5L546.9,181.0L550.7,184.7L554.6,187.5L558.5,192.6L562.4,194.1L566.3,196.4L570.2,196.4L574.1,196.0L578.0,199.6L581.8,200.2L585.7,194.5L589.6,197.0L593.5,199.7L597.4,198.3L601.3,197.5L605.2,196.8L609.1,195.6L612.9,194.5L616.8,192.6L620.7,191.3L624.6,189.0L628.5,186.4L632.4,180.7L636.3,177.2L640.1,172.4L644.0,169.9L647.9,168.8L651.8,168.4L655.7,166.9L659.6,166.3" stroke="#DF536B"/>
<path d="M430.2,178.4L434.1,177.2L438.0,175.6L441.9,175.6L445.8,173.9L449.7,174.6L453.6,173.4L457.5,173.5L461.3,175.8L465.2,175.1L469.1,174.0L473.0,172.7L476.9,173.0L480.8,171.1L484.7,170.3L488.6,169.2L492.4,168.4L496.3,166.5L500.2,165.5L504.1,164.2L508.0,163.7L511.9,162.1L515.8,161.1L519.7,160.7L523.5,158.6L527.4,158.3L531.3,155.7L535.2,155.2L539.1,153.6L543.0,151.7L546.9,151.1L550.7,150.2L554.6,149.2L558.5,148.4L562.4,147.6L566.3,147.1L570.2,146.1L574.1,145.2L578.0,144.6L581.8,142.9L585.7,141.8L589.6,140.1L593.5,139.4L597.4,137.4L601.3,135.3L605.2,134.4L609.1,132.8L612.9,131.6L616.8,129.7L620.7,129.9L624.6,129.2L628.5,127.7L632.4,126.9L636.3,125.7L640.1,124.2L644.0,123.6L647.9,121.8L651.8,120.6L655.7,119.2L659.6,118.3" stroke="#61D04F"/>
<path d="M430.2,174.2L434.1,173.5L438.0,172.8L441.9,170.7L445.8,166.1L449.7,167.9L453.6,165.6L457.5,168.3L461.3,167.5L465.2,170.9L469.1,167.4L473.0,167.5L476.9,167.6L480.8,167.5L484.7,169.0L488.6,169.8L492.4,171.5L496.3,171.3L500.2,169.8L504.1,171.4L508.0,171.3L511.9,171.2L515.8,170.6L519.7,171.5L523.5,172.2L527.4,171.6L531.3,171.3L535.2,173.0L539.1,171.6L543.0,170.7L546.9,172.9L550.7,172.9L554.6,174.7L558.5,175.5L562.4,176.9L566.3,177.2L570.2,177.5L574.1,177.6L578.0,177.0L581.8,174.4L585.7,172.1L589.6,171.4L593.5,169.5L597.4,169.2L601.3,168.9L605.2,168.3L609.1,167.1L612.9,166.2L616.8,165.2L620.7,163.5L624.6,162.0L628.5,161.7L632.4,160.0L636.3,159.4L640.1,159.2L644.0,158.2L647.9,157.7L651.8,157.3L655.7,156.0L659.6,155.9" stroke="#DF536B"/>
<path d="M430.2,171.3L434.1,170.6L438.0,171.2L441.9,169.4L445.8,170.1L449.7,169.7L453.6,170.7L457.5,169.3L461.3,167.8L465.2,167.4L469.1,166.2L473.0,164.9L476.9,166.4L480.8,165.2L484.7,165.4L488.6,164.2L492.4,162.8L496.3,162.1L500.2,158.9L504.1,157.2L508.0,155.2L511.9,154.2L515.8,152.8L519.7,151.7L523.5,150.7L527.4,149.2L531.3,148.6L535.2,146.9L539.1,145.6L543.0,144.7L546.9,143.3L550.7,142.4L554.6,141.9L558.5,141.1L562.4,140.7L566.3,139.4L570.2,138.6L574.1,137.0L578.0,135.2L581.8,133.3L585.7,132.0L589.6,131.2L593.5,129.5L597.4,128.8L601.3,126.7L605.2,126.6L609.1,125.1L612.9,124.0L616.8,123.0L620.7,122.0L624.6,120.8L628.5,119.3L632.4,118.7L636.3,118.5L640.1,117.8L644.0,117.4L647.9,117.0L651.8,116.2L655.7,116.1L659.6,115.6" stroke="#2297E6"/>
<path d="M430.2,173.7L434.1,171.0L438.0,174.7L441.9,174.4L445.8,173.5L449.7,175.4L453.6,178.4L457.5,179.9L461.3,180.9L465.2,184.3L469.1,182.6L473.0,178.2L476.9,178.7L480.8,178.3L484.7,177.8L488.6,178.2L492.4,178.9L496.3,180.3L500.2,180.5L504.1,178.1L508.0,179.2L511.9,177.5L515.8,177.5L519.7,175.7L523.5,177.2L527.4,175.5L531.3,173.9L535.2,174.2L539.1,174.9L543.0,175.7L546.9,175.0L550.7,174.2L554.6,172.3L558.5,169.4L562.4,167.1L566.3,165.0L570.2,162.8L574.1,160.4L578.0,160.0L581.8,157.6L585.7,156.1L589.6,154.3L593.5,152.8L597.4,151.3L601.3,151.4L605.2,150.0L609.1,148.5L612.9,146.8L616.8,145.8L620.7,144.2L624.6,142.5L628.5,142.1L632.4,140.7L636.3,140.1L640.1,137.4L644.0,136.7L647.9,135.9L651.8,134.5L655.7,134.2L659.6,133.8" stroke="#DF536B"/>
<path d="M430.2,161.8L434.1,161.5L438.0,162.7L441.9,162.3L445.8,162.2L449.7,162.4L453.6,163.2L457.5,161.8L461.3,160.6L465.2,160.4L469.1,160.3L473.0,159.6L476.9,158.6L480.8,158.9L484.7,158.5L488.6,158.1L492.4,158.0L496.3,158.4L500.2,158.1L504.1,158.3L508.0,157.6L511.9,157.7L515.8,157.4L519.7,157.4L523.5,157.0L527.4,156.3L531.3,156.0L535.2,155.1L539.1,155.3L543.0,154.9L546.9,154.2L550.7,153.6L554.6,152.8L558.5,152.0L562.4,151.3L566.3,150.7L570.2,149.8L574.1,147.8L578.0,146.2L581.8,144.4L585.7,142.9L589.6,141.6L593.5,139.7L597.4,138.3L601.3,137.2L605.2,135.7L609.1,134.6L612.9,133.4L616.8,132.5L620.7,131.6L624.6,130.2L628.5,128.7L632.4,127.0L636.3,124.8L640.1,123.9L644.0,122.2L647.9,121.3L651.8,120.3L655.7,119.3L659.6,118.8" stroke="#61D04F"/>
<path d="M430.2,189.7L434.1,187.8L438.0,188.3L441.9,185.0L445.8,180.1L449.7,182.2L453.6,181.7L457.5,183.8L461.3,183.3L465.2,185.7L469.1,185.2L473.0,188.1L476.9,187.4L480.8,184.7L484.7,190.0L488.6,188.3L492.4,189.9L496.3,191.7L500.2,192.2L504.1,191.8L508.0,192.1L511.9,191.0L515.8,189.1L519.7,190.7L523.5,187.9L527.4,186.0L531.3,182.3L535.2,180.4L539.1,179.9L543.0,183.7L546.9,188.7L550.7,189.8L554.6,194.5L558.5,199.7L562.4,205.8L566.3,203.7L570.2,189.8L574.1,188.9L578.0,190.8L581.8,187.0L585.7,186.2L589.6,185.1L593.5,183.2L597.4,181.3L601.3,177.8L605.2,175.9L609.1,173.2L612.9,170.9L616.8,166.9L620.7,164.7L624.6,160.7L628.5,158.6L632.4,156.5L636.3,152.3L640.1,151.3L644.0,149.2L647.9,146.7L651.8,146.1L655.7,144.7L659.6,142.5" stroke="#DF536B"/>
<path d="M430.2,186.7L434.1,188.2L438.0,187.0L441.9,189.0L445.8,183.8L449.7,185.2L453.6,184.1L457.5,182.8L461.3,184.7L465.2,184.6L469.1,180.9L473.0,179.9L476.9,179.6L480.8,178.2L484.7,176.1L488.6,175.8L492.4,174.2L496.3,172.7L500.2,170.0L504.1,167.8L508.0,167.5L511.9,165.2L515.8,165.9L519.7,164.1L523.5,164.5L527.4,163.3L531.3,161.5L535.2,162.7L539.1,160.9L543.0,160.8L546.9,159.2L550.7,158.3L554.6,156.1L558.5,153.6L562.4,151.2L566.3,150.6L570.2,148.9L574.1,148.1L578.0,147.3L581.8,145.8L585.7,144.0L589.6,144.0L593.5,142.3L597.4,140.8L601.3,139.2L605.2,137.5L609.1,136.7L612.9,135.4L616.8,133.9L620.7,133.5L624.6,132.2L628.5,129.6L632.4,128.7L636.3,126.2L640.1,124.4L644.0,123.9L647.9,121.4L651.8,121.5L655.7,121.4L659.6,120.3" stroke="#61D04F"/>
<path d="M430.2,177.9L434.1,177.4L438.0,178.4L441.9,177.2L445.8,174.8L449.7,174.9L453.6,174.5L457.5,172.5L461.3,174.3L465.2,173.5L469.1,171.1L473.0,170.5L476.9,170.3L480.8,169.9L484.7,168.4L488.6,169.1L492.4,167.9L496.3,165.7L500.2,165.4L504.1,164.1L508.0,162.6L511.9,162.0L515.8,160.2L519.7,159.7L523.5,158.4L527.4,157.7L531.3,155.9L535.2,155.1L539.1,153.0L543.0,152.1L546.9,150.9L550.7,149.2L554.6,148.9L558.5,147.7L562.4,146.1L566.3,145.2L570.2,144.3L574.1,142.2L578.0,141.5L581.8,139.8L585.7,138.7L589.6,137.1L593.5,135.6L597.4,135.2L601.3,133.2L605.2,132.1L609.1,130.9L612.9,129.8L616.8,128.2L620.7,127.3L624.6,125.8L628.5,124.8L632.4,124.4L636.3,122.8L640.1,122.6L644.0,121.7L647.9,120.3L651.8,119.7L655.7,118.1L659.6,117.4" stroke="#2297E6"/>
<path d="M430.2,182.0L434.1,182.5L438.0,183.1L441.9,176.8L445.8,175.8L449.7,177.8L453.6,177.8L457.5,179.4L461.3,179.2L465.2,181.9L469.1,180.4L473.0,179.7L476.9,179.3L480.8,179.8L484.7,180.5L488.6,180.8L492.4,180.8L496.3,184.3L500.2,183.6L504.1,184.6L508.0,185.2L511.9,185.7L515.8,185.3L519.7,186.8L523.5,188.3L527.4,186.8L531.3,187.7L535.2,185.9L539.1,186.7L543.0,187.1L546.9,186.4L550.7,187.7L554.6,188.9L558.5,189.4L562.4,187.7L566.3,185.5L570.2,183.7L574.1,181.0L578.0,180.0L581.8,177.3L585.7,175.7L589.6,174.3L593.5,172.5L597.4,173.1L601.3,170.6L605.2,170.0L609.1,168.9L612.9,166.4L616.8,165.0L620.7,162.1L624.6,160.6L628.5,159.4L632.4,157.5L636.3,156.5L640.1,154.1L644.0,153.5L647.9,152.8L651.8,151.3L655.7,149.9L659.6,150.0" stroke="#DF536B"/>
<path d="M430.2,152.0L434.1,157.4L438.0,156.4L441.9,158.2L445.8,157.9L449.7,159.4L453.6,158.1L457.5,158.8L461.3,157.4L465.2,158.6L469.1,159.4L473.0,157.6L476.9,156.4L480.8,155.0L484.7,155.0L488.6,154.3L492.4,146.1L496.3,149.4L500.2,148.0L504.1,146.6L508.0,147.8L511.9,145.2L515.8,141.9L519.7,144.7L523.5,140.5L527.4,141.6L531.3,139.1L535.2,140.0L539.1,141.9L543.0,134.8L546.9,139.1L550.7,138.6L554.6,132.5L558.5,130.1L562.4,129.7L566.3,135.2L570.2,132.9L574.1,131.5L578.0,126.8L581.8,128.7L585.7,127.0L589.6,123.1L593.5,123.6L597.4,118.8L601.3,122.1L605.2,119.3L609.1,118.7L612.9,118.4L616.8,117.8L620.7,116.5L624.6,117.8L628.5,117.0L632.4,110.4L636.3,114.6L640.1,110.9L644.0,113.7L647.9,109.9L651.8,112.7L655.7,113.1L659.6,111.2" stroke="#2297E6"/>
<path d="M430.2,173.0L434.1,170.1L438.0,173.9L441.9,174.0L445.8,170.6L449.7,171.5L453.6,171.2L457.5,167.6L461.3,169.5L465.2,170.8L469.1,169.5L473.0,169.4L476.9,168.2L480.8,169.3L484.7,166.8L488.6,168.2L492.4,166.7L496.3,165.9L500.2,166.4L504.1,163.4L508.0,163.0L511.9,163.1L515.8,161.4L519.7,162.3L523.5,159.3L527.4,159.4L531.3,158.2L535.2,157.5L539.1,156.6L543.0,154.3L546.9,153.6L550.7,153.1L554.6,152.6L558.5,151.8L562.4,151.4L566.3,150.0L570.2,148.6L574.1,147.9L578.0,148.0L581.8,145.9L585.7,144.6L589.6,143.0L593.5,139.4L597.4,137.2L601.3,134.4L605.2,132.1L609.1,129.9L612.9,127.7L616.8,127.2L620.7,126.1L624.6,125.0L628.5,123.8L632.4,122.0L636.3,121.8L640.1,120.3L644.0,119.9L647.9,118.0L651.8,116.7L655.7,114.6L659.6,113.4" stroke="#61D04F"/>
<path d="M430.2,179.0L434.1,177.9L438.0,178.9L441.9,178.8L445.8,175.4L449.7,175.3L453.6,173.7L457.5,173.2L461.3,172.8L465.2,172.4L469.1,169.9L473.0,168.4L476.9,169.8L480.8,167.5L484.7,165.5L488.6,166.0L492.4,165.3L496.3,163.2L500.2,163.1L504.1,161.7L508.0,160.2L511.9,158.5L515.8,157.8L519.7,156.6L523.5,155.3L527.4,154.0L531.3,151.9L535.2,150.6L539.1,148.7L543.0,147.4L546.9,146.0L550.7,144.7L554.6,143.8L558.5,143.1L562.4,142.1L566.3,140.5L570.2,139.0L574.1,137.4L578.0,136.1L581.8,134.8L585.7,133.2L589.6,131.4L593.5,129.7L597.4,129.4L601.3,127.6L605.2,125.8L609.1,124.7L612.9,122.8L616.8,121.6L620.7,120.6L624.6,119.2L628.5,118.9L632.4,118.4L636.3,117.2L640.1,116.9L644.0,116.6L647.9,114.9L651.8,113.6L655.7,112.4L659.6,111.1" stroke="#2297E6"/>
<path d="M430.2,185.5L434.1,182.5L438.0,180.0L441.9,177.4L445.8,176.6L449.7,174.1L453.6,172.6L457.5,170.7L461.3,169.5L465.2,168.4L469.1,166.7L473.0,164.5L476.9,162.5L480.8,159.7L484.7,158.0L488.6,155.6L492.4,153.7L496.3,152.6L500.2,150.2L504.1,149.1L508.0,147.4L511.9,145.9L515.8,145.0L519.7,143.7L523.5,141.6L527.4,141.0L531.3,139.5L535.2,138.8L539.1,137.8L543.0,136.5L546.9,135.8L550.7,135.1L554.6,134.8L558.5,134.2L562.4,134.4L566.3,133.3L570.2,132.9L574.1,131.3L578.0,129.7L581.8,128.5L585.7,127.3L589.6,126.3L593.5,125.6L597.4,124.8L601.3,124.5L605.2,123.7L609.1,122.3L612.9,121.0L616.8,119.9L620.7,118.8L624.6,118.4L628.5,119.3L632.4,118.9L636.3,116.5L640.1,114.4L644.0,112.7L647.9,111.3L651.8,111.2L655.7,110.1L659.6,109.9" stroke="#2297E6"/>
<path d="M430.2,184.8L434.1,184.9L438.0,183.8L441.9,184.5L445.8,178.4L449.7,177.8L453.6,180.0L457.5,178.0L461.3,183.5L465.2,182.4L469.1,182.9L473.0,184.4L476.9,183.0L480.8,187.5L484.7,186.1L488.6,189.7L492.4,189.3L496.3,194.4L500.2,193.6L504.1,192.3L508.0,194.4L511.9,193.3L515.8,191.7L519.7,190.5L523.5,188.4L527.4,185.4L531.3,180.4L535.2,178.5L539.1,180.4L543.0,184.2L546.9,191.1L550.7,193.6L554.6,199.2L558.5,207.7L562.4,215.2L566.3,210.9L570.2,195.0L574.1,191.2L578.0,191.7L581.8,187.9L585.7,188.5L589.6,186.7L593.5,188.7L597.4,188.6L601.3,186.6L605.2,187.4L609.1,186.9L612.9,183.3L616.8,179.2L620.7,176.0L624.6,173.2L628.5,171.4L632.4,170.6L636.3,168.1L640.1,166.6L644.0,164.5L647.9,163.2L651.8,161.8L655.7,160.3L659.6,159.4" stroke="#DF536B"/>
<path d="M430.2,188.2L434.1,182.6L438.0,185.9L441.9,179.9L445.8,178.2L449.7,177.1L453.6,179.2L457.5,179.2L461.3,178.9L465.2,180.5L469.1,179.0L473.0,178.0L476.9,177.8L480.8,179.3L484.7,180.1L488.6,182.4L492.4,182.3L496.3,185.4L500.2,183.8L504.1,183.5L508.0,186.2L511.9,183.8L515.8,185.7L519.7,186.7L523.5,182.8L527.4,181.2L531.3,174.3L535.2,173.8L539.1,174.8L543.0,178.1L546.9,180.2L550.7,186.1L554.6,187.5L558.5,195.5L562.4,197.8L566.3,194.9L570.2,187.0L574.1,182.8L578.0,180.4L581.8,179.4L585.7,179.0L589.6,179.7L593.5,180.8L597.4,182.2L601.3,184.1L605.2,186.1L609.1,186.1L612.9,188.9L616.8,182.8L620.7,176.7L624.6,175.0L628.5,174.5L632.4,171.8L636.3,170.8L640.1,169.8L644.0,167.3L647.9,164.7L651.8,162.2L655.7,159.1L659.6,156.3" stroke="#DF536B"/>
<path d="M430.2,181.6L434.1,185.5L438.0,176.5L441.9,183.0L445.8,177.2L449.7,179.2L453.6,176.1L457.5,177.8L461.3,183.1L465.2,183.4L469.1,178.8L473.0,173.9L476.9,180.5L480.8,175.2L484.7,175.9L488.6,174.9L492.4,174.5L496.3,171.7L500.2,170.5L504.1,167.9L508.0,169.5L511.9,166.4L515.8,164.7L519.7,165.4L523.5,161.2L527.4,161.5L531.3,160.8L535.2,159.6L539.1,156.8L543.0,157.0L546.9,153.5L550.7,153.1L554.6,150.5L558.5,154.1L562.4,148.7L566.3,149.9L570.2,147.1L574.1,147.7L578.0,146.1L581.8,143.8L585.7,142.5L589.6,141.5L593.5,137.4L597.4,137.1L601.3,135.4L605.2,132.0L609.1,126.4L612.9,129.8L616.8,127.3L620.7,128.7L624.6,126.0L628.5,125.6L632.4,122.6L636.3,119.6L640.1,116.1L644.0,116.7L647.9,114.7L651.8,116.7L655.7,114.0L659.6,114.8" stroke="#61D04F"/>
<path d="M430.2,156.5L434.1,156.5L438.0,157.4L441.9,157.8L445.8,156.8L449.7,157.7L453.6,158.2L457.5,158.0L461.3,159.4L465.2,160.9L469.1,160.0L473.0,159.4L476.9,159.3L480.8,158.2L484.7,158.0L488.6,156.6L492.4,156.2L496.3,153.9L500.2,153.2L504.1,152.6L508.0,152.1L511.9,151.0L515.8,150.8L519.7,150.5L523.5,149.2L527.4,149.0L531.3,148.2L535.2,147.5L539.1,146.5L543.0,146.4L546.9,145.8L550.7,145.1L554.6,143.8L558.5,143.3L562.4,142.5L566.3,142.0L570.2,141.0L574.1,140.1L578.0,139.8L581.8,138.3L585.7,137.7L589.6,136.6L593.5,135.1L597.4,133.9L601.3,131.2L605.2,129.6L609.1,128.6L612.9,126.7L616.8,125.0L620.7,123.8L624.6,122.0L628.5,120.8L632.4,120.3L636.3,119.3L640.1,118.5L644.0,118.4L647.9,116.3L651.8,115.7L655.7,115.0L659.6,114.0" stroke="#2297E6"/>
<path d="M430.2,170.9L434.1,170.6L438.0,170.1L441.9,171.1L445.8,170.7L449.7,171.7L453.6,174.5L457.5,172.5L461.3,170.3L465.2,172.3L469.1,171.4L473.0,172.4L476.9,169.6L480.8,170.0L484.7,167.7L488.6,167.5L492.4,167.6L496.3,167.2L500.2,166.3L504.1,164.2L508.0,163.5L511.9,162.0L515.8,161.0L519.7,161.0L523.5,158.5L527.4,159.4L531.3,157.2L535.2,156.0L539.1,154.4L543.0,154.3L546.9,152.1L550.7,150.7L554.6,149.4L558.5,147.6L562.4,145.6L566.3,144.7L570.2,143.8L574.1,141.0L578.0,138.3L581.8,137.0L585.7,136.0L589.6,133.8L593.5,131.3L597.4,128.8L601.3,128.3L605.2,127.0L609.1,125.1L612.9,124.3L616.8,122.6L620.7,122.3L624.6,121.3L628.5,120.3L632.4,119.2L636.3,118.9L640.1,118.3L644.0,117.4L647.9,116.7L651.8,116.7L655.7,116.9L659.6,114.8" stroke="#61D04F"/>
<path d="M430.2,156.6L434.1,156.6L438.0,156.7L441.9,158.9L445.8,157.9L449.7,158.2L453.6,158.2L457.5,158.7L461.3,158.1L465.2,160.1L469.1,158.4L473.0,158.2L476.9,158.4L480.8,158.0L484.7,154.8L488.6,155.9L492.4,154.6L496.3,153.6L500.2,153.5L504.1,153.2L508.0,152.5L511.9,153.1L515.8,152.7L519.7,151.1L523.5,150.6L527.4,150.6L531.3,149.6L535.2,149.8L539.1,147.9L543.0,147.6L546.9,147.7L550.7,146.7L554.6,144.5L558.5,143.8L562.4,142.1L566.3,141.0L570.2,140.0L574.1,139.1L578.0,137.5L581.8,136.1L585.7,135.4L589.6,133.7L593.5,131.7L597.4,131.1L601.3,128.5L605.2,127.3L609.1,126.5L612.9,124.7L616.8,124.5L620.7,122.8L624.6,121.5L628.5,120.6L632.4,119.0L636.3,117.4L640.1,115.7L644.0,115.2L647.9,113.6L651.8,112.0L655.7,111.3L659.6,110.9" stroke="#2297E6"/>
<path d="M430.2,187.3L434.1,185.1L438.0,184.2L441.9,180.4L445.8,178.3L449.7,179.7L453.6,179.7L457.5,180.9L461.3,179.2L465.2,182.5L469.1,179.5L473.0,177.5L476.9,177.7L480.8,176.4L484.7,175.4L488.6,178.2L492.4,179.0L496.3,180.6L500.2,183.0L504.1,181.9L508.0,183.4L511.9,182.3L515.8,181.0L519.7,181.9L523.5,181.9L527.4,179.9L531.3,179.8L535.2,179.8L539.1,179.6L543.0,180.9L546.9,181.7L550.7,180.6L554.6,180.2L558.5,178.6L562.4,176.6L566.3,174.7L570.2,172.9L574.1,170.3L578.0,168.2L581.8,166.0L585.7,164.7L589.6,163.9L593.5,162.5L597.4,161.5L601.3,160.7L605.2,159.7L609.1,158.2L612.9,157.4L616.8,156.5L620.7,155.0L624.6,153.6L628.5,151.5L632.4,150.3L636.3,148.7L640.1,147.3L644.0,146.5L647.9,145.9L651.8,145.4L655.7,144.0L659.6,144.5" stroke="#DF536B"/>
<path d="M430.2,204.5L434.1,210.0L438.0,204.4L441.9,201.3L445.8,199.2L449.7,196.4L453.6,199.2L457.5,196.1L461.3,193.6L465.2,195.1L469.1,192.6L473.0,194.3L476.9,183.7L480.8,185.3L484.7,184.7L488.6,186.7L492.4,183.2L496.3,178.1L500.2,176.5L504.1,174.9L508.0,173.6L511.9,173.0L515.8,170.4L519.7,169.6L523.5,166.7L527.4,166.4L531.3,164.7L535.2,162.7L539.1,162.5L543.0,161.2L546.9,160.7L550.7,159.3L554.6,158.6L558.5,158.4L562.4,156.4L566.3,155.7L570.2,154.6L574.1,152.5L578.0,151.7L581.8,149.4L585.7,148.2L589.6,145.1L593.5,145.4L597.4,143.3L601.3,141.8L605.2,140.0L609.1,138.5L612.9,136.3L616.8,134.6L620.7,133.1L624.6,131.6L628.5,129.9L632.4,129.1L636.3,127.1L640.1,126.4L644.0,125.2L647.9,124.8L651.8,124.2L655.7,123.8L659.6,123.6" stroke="#61D04F"/>
<path d="M430.2,172.3L434.1,168.5L438.0,173.2L441.9,172.0L445.8,167.5L449.7,171.5L453.6,172.6L457.5,174.5L461.3,176.6L465.2,180.5L469.1,179.6L473.0,177.9L476.9,176.5L480.8,177.3L484.7,176.1L488.6,178.2L492.4,178.1L496.3,178.5L500.2,179.1L504.1,178.6L508.0,179.2L511.9,179.0L515.8,179.7L519.7,178.7L523.5,178.6L527.4,178.1L531.3,178.3L535.2,178.0L539.1,179.3L543.0,178.9L546.9,179.6L550.7,179.0L554.6,177.6L558.5,174.1L562.4,172.0L566.3,171.2L570.2,170.3L574.1,169.7L578.0,169.3L581.8,168.6L585.7,167.9L589.6,166.7L593.5,166.2L597.4,165.0L601.3,164.2L605.2,163.1L609.1,161.6L612.9,160.9L616.8,159.4L620.7,157.6L624.6,156.0L628.5,154.6L632.4,153.4L636.3,152.0L640.1,150.7L644.0,149.2L647.9,148.4L651.8,146.1L655.7,144.9L659.6,143.2" stroke="#DF536B"/>
<path d="M430.2,178.5L434.1,177.1L438.0,176.6L441.9,175.7L445.8,173.7L449.7,172.9L453.6,171.1L457.5,169.6L461.3,169.8L465.2,169.1L469.1,167.6L473.0,165.7L476.9,164.8L480.8,164.3L484.7,162.3L488.6,161.3L492.4,160.3L496.3,157.0L500.2,155.0L504.1,153.8L508.0,152.9L511.9,151.2L515.8,150.6L519.7,150.4L523.5,150.2L527.4,149.2L531.3,147.9L535.2,148.4L539.1,147.6L543.0,147.7L546.9,147.4L550.7,147.0L554.6,145.9L558.5,145.0L562.4,144.1L566.3,142.8L570.2,141.5L574.1,140.9L578.0,139.4L581.8,137.9L585.7,136.2L589.6,134.5L593.5,134.1L597.4,133.4L601.3,131.9L605.2,130.4L609.1,128.9L612.9,126.9L616.8,124.6L620.7,123.0L624.6,121.1L628.5,120.4L632.4,119.5L636.3,118.9L640.1,118.0L644.0,117.4L647.9,115.5L651.8,115.4L655.7,113.9L659.6,112.5" stroke="#2297E6"/>
<path d="M430.2,157.9L434.1,157.1L438.0,158.0L441.9,157.3L445.8,154.9L449.7,155.6L453.6,154.9L457.5,154.6L461.3,153.9L465.2,154.4L469.1,153.9L473.0,152.8L476.9,154.2L480.8,153.1L484.7,151.8L488.6,153.4L492.4,153.2L496.3,152.1L500.2,151.3L504.1,151.2L508.0,150.4L511.9,149.8L515.8,148.8L519.7,147.8L523.5,146.4L527.4,145.8L531.3,144.0L535.2,144.2L539.1,143.1L543.0,141.6L546.9,141.0L550.7,139.5L554.6,138.8L558.5,136.6L562.4,135.7L566.3,134.5L570.2,133.4L574.1,132.2L578.0,130.9L581.8,130.3L585.7,128.8L589.6,127.7L593.5,126.3L597.4,126.4L601.3,125.6L605.2,124.0L609.1,122.9L612.9,121.5L616.8,120.9L620.7,120.0L624.6,118.8L628.5,118.1L632.4,117.9L636.3,116.6L640.1,115.7L644.0,115.7L647.9,113.7L651.8,113.0L655.7,111.4L659.6,110.4" stroke="#2297E6"/>
<path d="M430.2,169.6L434.1,168.9L438.0,168.2L441.9,168.5L445.8,166.9L449.7,167.6L453.6,165.3L457.5,165.5L461.3,166.2L465.2,164.3L469.1,163.8L473.0,162.4L476.9,161.4L480.8,159.0L484.7,159.3L488.6,156.5L492.4,154.7L496.3,154.0L500.2,154.0L504.1,153.7L508.0,152.9L511.9,151.5L515.8,150.5L519.7,149.1L523.5,148.5L527.4,147.3L531.3,146.5L535.2,145.8L539.1,145.4L543.0,144.7L546.9,144.5L550.7,143.4L554.6,142.3L558.5,141.0L562.4,139.9L566.3,138.5L570.2,137.3L574.1,135.8L578.0,134.1L581.8,132.2L585.7,131.2L589.6,129.4L593.5,127.7L597.4,126.5L601.3,124.0L605.2,122.5L609.1,121.8L612.9,119.9L616.8,118.4L620.7,117.3L624.6,116.2L628.5,115.2L632.4,115.8L636.3,114.5L640.1,113.9L644.0,113.7L647.9,111.9L651.8,111.0L655.7,109.9L659.6,108.0" stroke="#2297E6"/>
<path d="M430.2,173.7L434.1,172.1L438.0,173.0L441.9,173.0L445.8,170.2L449.7,171.0L453.6,170.5L457.5,169.4L461.3,170.8L465.2,171.9L469.1,169.6L473.0,168.3L476.9,167.4L480.8,167.9L484.7,165.2L488.6,164.9L492.4,163.8L496.3,162.5L500.2,162.2L504.1,161.0L508.0,160.2L511.9,158.8L515.8,158.1L519.7,157.4L523.5,156.1L527.4,155.4L531.3,153.6L535.2,152.5L539.1,151.8L543.0,150.5L546.9,150.0L550.7,148.4L554.6,147.7L558.5,147.1L562.4,146.2L566.3,144.7L570.2,143.5L574.1,142.0L578.0,141.3L581.8,139.5L585.7,138.1L589.6,137.0L593.5,135.3L597.4,133.9L601.3,133.0L605.2,131.3L609.1,129.3L612.9,127.8L616.8,126.3L620.7,125.0L624.6,123.9L628.5,123.0L632.4,123.0L636.3,121.7L640.1,121.4L644.0,121.4L647.9,119.2L651.8,119.2L655.7,119.7L659.6,118.6" stroke="#61D04F"/>
<path d="M430.2,179.4L434.1,179.2L438.0,178.5L441.9,179.5L445.8,180.0L449.7,178.3L453.6,178.0L457.5,178.1L461.3,178.1L465.2,177.7L469.1,177.4L473.0,175.6L476.9,175.2L480.8,172.9L484.7,171.0L488.6,169.5L492.4,167.9L496.3,166.6L500.2,166.0L504.1,164.4L508.0,163.6L511.9,163.3L515.8,161.6L519.7,159.6L523.5,159.3L527.4,158.2L531.3,157.7L535.2,156.7L539.1,156.7L543.0,155.5L546.9,155.0L550.7,154.3L554.6,153.6L558.5,152.8L562.4,152.2L566.3,151.3L570.2,150.3L574.1,148.4L578.0,146.9L581.8,145.5L585.7,144.4L589.6,143.5L593.5,142.3L597.4,141.8L601.3,141.0L605.2,139.9L609.1,138.6L612.9,137.4L616.8,135.7L620.7,134.6L624.6,134.0L628.5,133.7L632.4,133.7L636.3,133.3L640.1,133.1L644.0,133.3L647.9,133.5L651.8,134.1L655.7,133.3L659.6,133.4" stroke="#61D04F"/>
<path d="M430.2,178.0L434.1,176.7L438.0,176.9L441.9,175.8L445.8,173.5L449.7,175.1L453.6,174.3L457.5,175.0L461.3,176.6L465.2,176.7L469.1,175.7L473.0,174.9L476.9,174.8L480.8,172.7L484.7,172.6L488.6,171.3L492.4,170.0L496.3,167.4L500.2,166.3L504.1,165.8L508.0,164.1L511.9,162.6L515.8,160.9L519.7,159.2L523.5,158.2L527.4,157.3L531.3,155.4L535.2,154.9L539.1,153.7L543.0,152.3L546.9,151.3L550.7,150.7L554.6,149.5L558.5,148.9L562.4,147.5L566.3,147.3L570.2,145.2L574.1,144.1L578.0,142.4L581.8,141.0L585.7,139.2L589.6,137.1L593.5,135.8L597.4,134.8L601.3,132.7L605.2,131.4L609.1,130.7L612.9,129.0L616.8,128.2L620.7,126.8L624.6,126.4L628.5,125.7L632.4,125.6L636.3,124.7L640.1,124.3L644.0,124.0L647.9,122.7L651.8,122.9L655.7,121.4L659.6,121.1" stroke="#61D04F"/>
</g>
</svg>
</body></html>
